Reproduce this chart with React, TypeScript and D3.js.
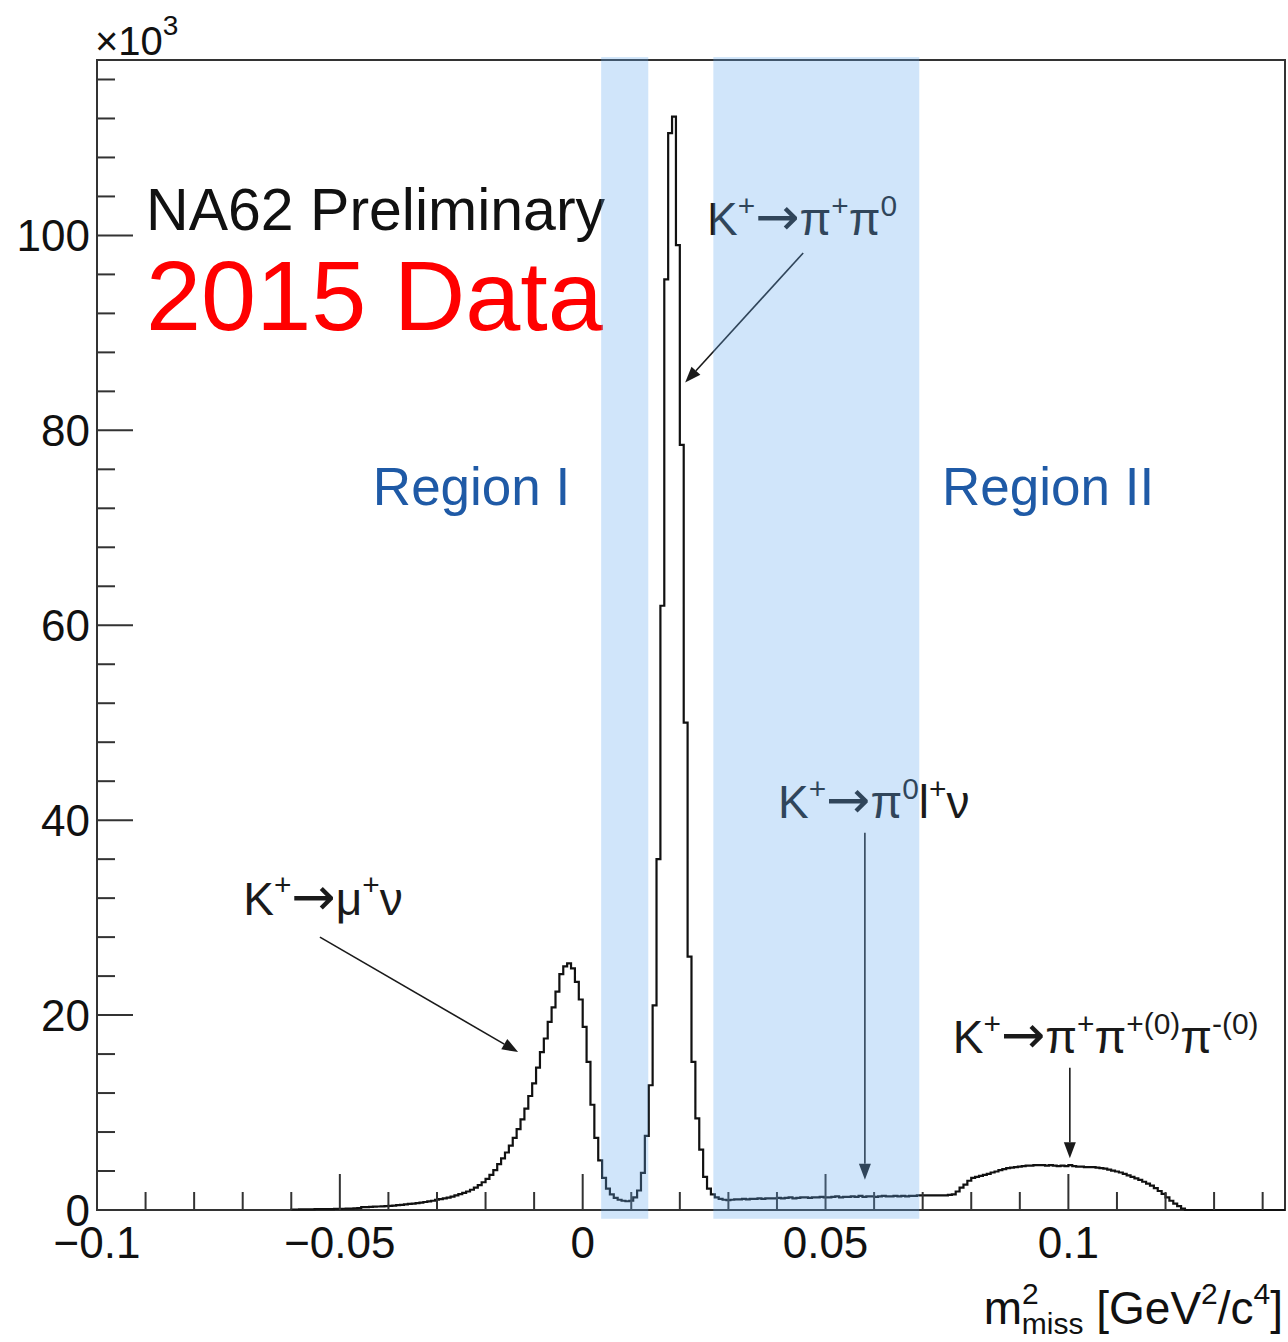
import React from 'react';
import * as d3 from 'd3';

// histogram of m2_miss, counts in units of 10^3, fixed bin width starting at binStart
const binStart = -0.06;
const binWidth = 0.0008;
const counts = [
  0.05, 0.05, 0.06, 0.06, 0.07, 0.07, 0.08, 0.08, 0.09, 0.1, 0.1, 0.11, 0.12, 0.13, 0.14, 0.15, 0.17, 0.2,
  0.3, 0.3, 0.32, 0.34, 0.36, 0.38, 0.4, 0.42, 0.45, 0.5, 0.53, 0.58, 0.62, 0.66, 0.7, 0.76, 0.82, 0.88, 0.95,
  1.05, 1.12, 1.2, 1.28, 1.38, 1.5, 1.62, 1.75, 1.9, 2.08, 2.3, 2.55, 2.85, 3.2, 3.6, 4.1, 4.7, 5.3, 5.9, 6.6, 7.4,
  8.3, 9.3, 10.4, 11.7, 13.0, 14.6, 16.2, 17.6, 19.3, 20.8, 22.4, 24.2, 25.0, 25.3, 24.8, 23.4, 21.6,
  18.8, 15.2, 10.8, 7.4, 5.1, 3.3, 2.2, 1.6, 1.25, 1.05, 0.95, 0.9, 0.95, 1.3, 2.0, 3.8, 7.6, 12.8, 21.0,
  36.0, 62.0, 95.5, 110.5, 112.2, 99.0, 78.5, 50.0, 26.0, 15.2, 9.4, 6.2, 3.4, 2.2, 1.6, 1.3, 1.15, 1.05,
  1.0, 1.05, 1.1, 1.1, 1.15, 1.1, 1.15, 1.15, 1.2, 1.15, 1.2, 1.2, 1.2,
  1.25, 1.2, 1.25, 1.3, 1.2, 1.25, 1.3, 1.3, 1.25, 1.3, 1.3, 1.35, 1.3,
  1.3, 1.35, 1.4, 1.3, 1.35, 1.35, 1.4, 1.35, 1.45, 1.35, 1.4, 1.4, 1.35, 1.4, 1.45, 1.4, 1.4, 1.45, 1.4, 1.45, 1.4, 1.45, 1.45, 1.5,
  1.5, 1.5, 1.5, 1.5, 1.5, 1.5, 1.5, 1.55,
  1.6, 1.9, 2.3, 2.6, 3.0, 3.3, 3.4, 3.5, 3.6, 3.7, 3.85, 3.95, 4.1, 4.2, 4.3, 4.35, 4.4, 4.45, 4.5, 4.55,
  4.55, 4.6, 4.6, 4.6, 4.55, 4.6, 4.55, 4.5, 4.55, 4.5, 4.6, 4.5, 4.45, 4.45, 4.4, 4.4, 4.4, 4.35, 4.3, 4.25,
  4.15, 4.05, 3.95, 3.85, 3.7, 3.55, 3.4, 3.25, 3.1, 2.9, 2.7, 2.5, 2.25, 1.95, 1.65, 1.3, 0.95, 0.65, 0.4, 0.15,
];

const xMin = -0.1;
const xMax = 0.1446;
const yMax = 118;

const xMajorTicks = [-0.1, -0.05, 0, 0.05, 0.1];
const xTickLabels = ['\u22120.1', '\u22120.05', '0', '0.05', '0.1'];
const yMajorTicks = [0, 20, 40, 60, 80, 100];
const yTickLabels = ['0', '20', '40', '60', '80', '100'];

// shaded signal regions [x0, x1]
const bandX = [[0.0038, 0.0135], [0.0269, 0.0693]];
const bandY = [-0.9, 118.3];

// decay labels: x, y (data units), text pieces; "^" marks superscript, "->" the arrow
const decayLabels = [
  { x: 0.0256, y: 100, parts: ['K', '^+', '->', '\u03c0', '^+', '\u03c0', '^0'] },
  { x: -0.0699, y: 30.3, parts: ['K', '^+', '->', '\u03bc', '^+', '\u03bd'] },
  { x: 0.0402, y: 40.2, parts: ['K', '^+', '->', '\u03c0', '^0', 'l', '^+', '\u03bd'] },
  { x: 0.0762, y: 16.1, parts: ['K', '^+', '->', '\u03c0', '^+', '\u03c0', '^+(0)', '\u03c0', '^-(0)'] },
];
// arrows: [x1, y1, x2, y2] in data units, head at the second point
const arrows = [
  [0.0454, 98.2, 0.0211, 84.9],
  [-0.0541, 28.0, -0.0133, 16.2],
  [0.0581, 38.7, 0.0581, 3.1],
  [0.1003, 14.6, 0.1003, 5.3],
];

const font = '"Liberation Sans", Arial, Helvetica, sans-serif';

function RichText({ x, y, parts, size, fill }) {
  let shifted = false;
  const spans = parts.map((p, i) => {
    const sup = p.startsWith('^');
    const isArrow = p === '->';
    const txt = sup ? p.slice(1) : isArrow ? '\u2192' : p;
    let dy = 0;
    if (sup && !shifted) { dy = -0.42 * size; shifted = true; }
    if (!sup && shifted) { dy = 0.42 * size; shifted = false; }
    return (
      <tspan key={i} dy={dy} fontSize={sup ? size * 0.65 : isArrow ? size * 1.15 : size}
        fontFamily={isArrow ? '"DejaVu Sans", sans-serif' : undefined}>{txt}</tspan>
    );
  });
  return <text x={x} y={y} fill={fill} fontFamily={font} fontSize={size}>{spans}</text>;
}

export default function App() {
  const W = 1288, H = 1342;
  const x = d3.scaleLinear().domain([xMin, xMax]).range([97, 1285]);
  const y = d3.scaleLinear().domain([0, yMax]).range([1210, 60]);

  // step outline of the histogram
  const pts = [[binStart, 0]];
  counts.forEach((c, i) => {
    const x0 = binStart + i * binWidth;
    pts.push([x0, c], [x0 + binWidth, c]);
  });
  const histEnd = binStart + counts.length * binWidth;
  pts.push([histEnd, 0], [xMax, 0]);
  const line = d3.line().x(d => x(d[0])).y(d => y(d[1]));

  const xMinor = d3.range(-0.1, 0.1445, 0.01).map(v => Math.round(v * 100) / 100)
    .filter(v => !xMajorTicks.some(m => Math.abs(m - v) < 1e-9));
  const yMinor = d3.range(0, 117, 4).filter(v => v % 20 !== 0);

  const axisColor = '#333';

  return (
    <div style={{ position: 'absolute', left: 0, top: 0 }}>
      <svg width={W} height={H} style={{ display: 'block', background: '#fff' }}>
        {/* frame */}
        <rect x={x(xMin)} y={y(yMax)} width={x(xMax) - x(xMin)} height={y(0) - y(yMax)}
          fill="none" stroke={axisColor} strokeWidth={2} />

        {/* histogram */}
        <path d={line(pts)} fill="none" stroke="#111" strokeWidth={2.2} />

        {/* x ticks */}
        {xMajorTicks.map(v => (
          <line key={'xM' + v} x1={x(v)} x2={x(v)} y1={y(0)} y2={y(0) - 36} stroke={axisColor} strokeWidth={2} />
        ))}
        {xMinor.map(v => (
          <line key={'xm' + v} x1={x(v)} x2={x(v)} y1={y(0)} y2={y(0) - 18} stroke={axisColor} strokeWidth={2} />
        ))}
        {xMajorTicks.map((v, i) => (
          <text key={'xl' + v} x={x(v)} y={1258} textAnchor="middle" fontFamily={font} fontSize={44} fill="#111">
            {xTickLabels[i]}
          </text>
        ))}

        {/* y ticks */}
        {yMajorTicks.map(v => (
          <line key={'yM' + v} x1={x(xMin)} x2={x(xMin) + 36} y1={y(v)} y2={y(v)} stroke={axisColor} strokeWidth={2} />
        ))}
        {yMinor.map(v => (
          <line key={'ym' + v} x1={x(xMin)} x2={x(xMin) + 18} y1={y(v)} y2={y(v)} stroke={axisColor} strokeWidth={2} />
        ))}
        {yMajorTicks.map((v, i) => (
          <text key={'yl' + v} x={90} y={y(v) + 16} textAnchor="end" fontFamily={font} fontSize={44} fill="#111">
            {yTickLabels[i]}
          </text>
        ))}

        {/* exponent */}
        <text x={95} y={55} fontFamily={font} fontSize={40} fill="#111">
          ×10<tspan dy={-20} fontSize={28}>3</tspan>
        </text>

        {/* axis title */}
        <text x={1283} y={1324} textAnchor="end" fontFamily={font} fontSize={46} fill="#111">
          m<tspan dy={-20} fontSize={30}>2</tspan>
          <tspan dx={-17} dy={30} fontSize={30}>miss</tspan>
          <tspan dy={-10}> [GeV</tspan>
          <tspan dy={-20} fontSize={30}>2</tspan>
          <tspan dy={20}>/c</tspan>
          <tspan dy={-20} fontSize={30}>4</tspan>
          <tspan dy={20}>]</tspan>
        </text>

        {/* headline */}
        <text x={x(-0.0899)} y={y(100.6)} fontFamily={font} fontSize={59} fill="#111">NA62 Preliminary</text>
        <text x={x(-0.0899)} y={y(90.3)} fontFamily={font} fontSize={99} fill="#ff0000">2015 Data</text>

        {/* region labels */}
        <text x={x(-0.0432)} y={y(72.3)} fontFamily={font} fontSize={53} fill="#1f5aa6">Region I</text>
        <text x={x(0.074)} y={y(72.3)} fontFamily={font} fontSize={53} fill="#1f5aa6">Region II</text>

        {/* decay annotations */}
        {decayLabels.map((d, i) => (
          <RichText key={'dl' + i} x={x(d.x)} y={y(d.y)} parts={d.parts} size={46} fill="#1a1a1a" />
        ))}
        {arrows.map((a, i) => {
          const x1 = x(a[0]), y1 = y(a[1]), x2 = x(a[2]), y2 = y(a[3]);
          const ang = Math.atan2(y2 - y1, x2 - x1);
          const L = 16, Wd = 6;
          const bx = x2 - L * Math.cos(ang), by = y2 - L * Math.sin(ang);
          const px = -Math.sin(ang) * Wd, py = Math.cos(ang) * Wd;
          return (
            <g key={'ar' + i}>
              <line x1={x1} y1={y1} x2={bx} y2={by} stroke="#1a1a1a" strokeWidth={1.6} />
              <path d={`M${x2},${y2}L${bx + px},${by + py}L${bx - px},${by - py}Z`} fill="#1a1a1a" />
            </g>
          );
        })}

        {/* shaded regions on top */}
        {bandX.map((b, i) => (
          <rect key={'band' + i} x={x(b[0])} y={y(bandY[1])} width={x(b[1]) - x(b[0])}
            height={y(bandY[0]) - y(bandY[1])} fill="rgb(100,170,240)" fillOpacity={0.3} />
        ))}
      </svg>
    </div>
  );
}
